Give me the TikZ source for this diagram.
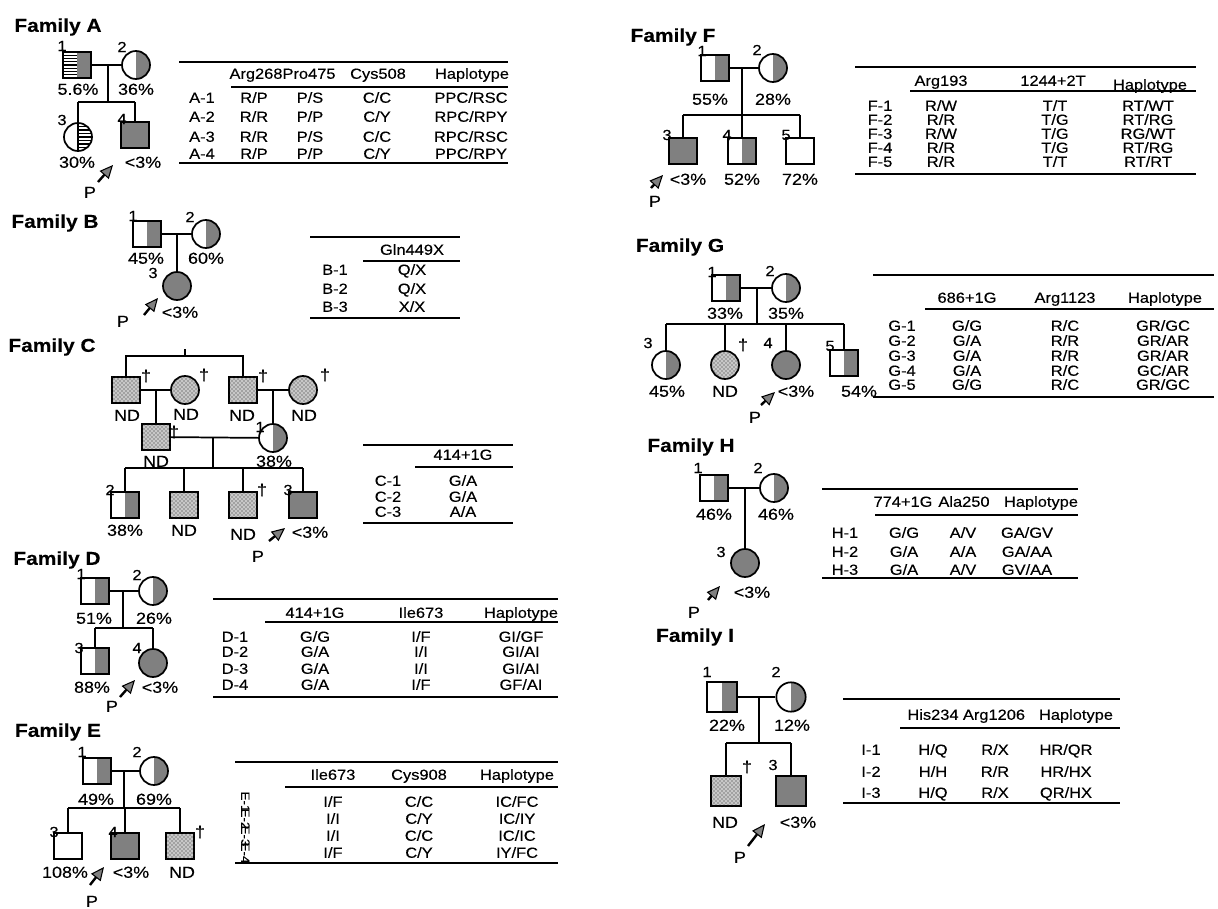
\documentclass[tikz,border=0pt]{standalone}
\usepackage{fontspec}
\setmainfont{Liberation Sans}[FakeStretch=1.12,FakeBold=0.3]
\usetikzlibrary{arrows.meta,patterns,calc}
\definecolor{PedGray}{RGB}{128,128,128}
\definecolor{DotGray}{RGB}{200,200,200}
\tikzset{
  sym/.style={draw,line width=1.3pt,inner sep=0pt},
  male/.style={sym,rectangle,minimum width=21pt,minimum height=19.5pt},
  female/.style={sym,circle,minimum size=21pt},
  affected/.style={fill=PedGray},
  carrier/.style={fill=white,path picture={\fill[PedGray] (path picture bounding box.north) rectangle (path picture bounding box.south east);}},
  stipple/.style={fill=DotGray,postaction={pattern=crosshatch dots,pattern color=black!85}},
  stripegray/.style={fill=white,path picture={
    \fill[PedGray] (path picture bounding box.north) rectangle (path picture bounding box.south east);
    \foreach \k in {1,...,7}
      \draw[line width=0.9pt] ($(path picture bounding box.north west)!\k/8!(path picture bounding box.south west)$) -- ($(path picture bounding box.north)!\k/8!(path picture bounding box.south)$);}},
  stripehalf/.style={fill=white,path picture={
    \draw[line width=0.9pt] (path picture bounding box.north) -- (path picture bounding box.south);
    \foreach \k in {1,...,7}
      \draw[line width=0.9pt] ($(path picture bounding box.north)!\k/8!(path picture bounding box.south)$) -- ($(path picture bounding box.north east)!\k/8!(path picture bounding box.south east)$);}},
  link/.style={line width=1.3pt},
  proband/.style={line width=1.8pt,-{Triangle[length=10pt,width=9pt,fill=PedGray,line width=0.8pt]}},
  famtitle/.style={font=\fontsize{14}{16}\selectfont\bfseries,inner sep=0pt},
  idno/.style={font=\fontsize{11}{12}\selectfont,inner sep=0pt},
  pct/.style={font=\fontsize{12}{14}\selectfont,inner sep=0pt,text height=0.72em,text depth=0pt},
  deadmark/.style={font=\fontsize{12}{13}\selectfont,inner sep=0pt},
  cell/.style={font=\fontsize{11}{12}\selectfont,inner sep=0pt,text height=0.72em,text depth=0pt},
  tabrule/.style={line width=0.8pt}
}
\begin{document}
\begin{tikzpicture}[x=0.75pt,y=-0.75pt]
\useasboundingbox (0,0) rectangle (1218,909);

% ---- family A
\node[famtitle] (famA) at (58,27) {Family A};
\node[male,stripegray] (a1) at (77,65) {};
\node[female,carrier] (a2) at (136,65) {};
\node[female,stripehalf] (a3) at (78,137) {};
\node[male,affected] (a4) at (135,135) {};
\node[idno] (a1n) at (62,46) {1};
\node[idno] (a2n) at (122,47) {2};
\node[idno] (a3n) at (62,120) {3};
\node[idno] (a4n) at (122,119) {4};
\coordinate (a-m) at (108,65);
\coordinate (a-s) at (108,102);
\draw[link] (a1) -- (a2);
\draw[link] (a-m) -- (a-s);
\draw[link] (a3 |- a-s) -- (a4 |- a-s);
\foreach \n in {a3,a4} \draw[link] (\n |- a-s) -- (\n);
\node[pct] (a1p) at (78,90) {5.6\%};
\node[pct] (a2p) at (136,90) {36\%};
\node[pct] (a3p) at (77,163) {30\%};
\node[pct] (a4p) at (143,163) {<3\%};
\coordinate (a-at) at (98,182);
\coordinate (a-ah) at (113,165);
\draw[proband] (a-at) -- (a-ah);
\node[pct] (aP) at (90,193) {P};

\draw[tabrule] (179,62) -- (508,62);
\draw[tabrule] (231,87) -- (508,87);
\draw[tabrule] (179,163) -- (508,163);
\node[cell] (tAh1) at (256,74) {Arg268}; \node[cell] (tAh2) at (309,74) {Pro475};
\node[cell] (tAh3) at (378,74) {Cys508}; \node[cell] (tAh4) at (472,74) {Haplotype};
\node[cell] (tA1) at (202,98) {A-1}; \node[cell] (tA1a) at (254,98) {R/P}; \node[cell] (tA1b) at (310,98) {P/S}; \node[cell] (tA1c) at (377,98) {C/C}; \node[cell] (tA1d) at (471,98) {PPC/RSC};
\node[cell] (tA2) at (202,117) {A-2}; \node[cell] (tA2a) at (254,117) {R/R}; \node[cell] (tA2b) at (310,117) {P/P}; \node[cell] (tA2c) at (377,117) {C/Y}; \node[cell] (tA2d) at (471,117) {RPC/RPY};
\node[cell] (tA3) at (202,137) {A-3}; \node[cell] (tA3a) at (254,137) {R/R}; \node[cell] (tA3b) at (310,137) {P/S}; \node[cell] (tA3c) at (377,137) {C/C}; \node[cell] (tA3d) at (471,137) {RPC/RSC};
\node[cell] (tA4) at (202,154) {A-4}; \node[cell] (tA4a) at (254,154) {R/P}; \node[cell] (tA4b) at (310,154) {P/P}; \node[cell] (tA4c) at (377,154) {C/Y}; \node[cell] (tA4d) at (471,154) {PPC/RPY};

% ---- family B
\node[famtitle] (famB) at (55,223) {Family B};
\node[male,carrier] (b1) at (147,234) {};
\node[female,carrier] (b2) at (206,234) {};
\node[female,affected] (b3) at (177,286) {};
\node[idno] (b1n) at (133,216) {1};
\node[idno] (b2n) at (190,217) {2};
\node[idno] (b3n) at (153,273) {3};
\coordinate (b-m) at (177,234);
\draw[link] (b1) -- (b2);
\draw[link] (b-m) -- (b3);
\node[pct] (b1p) at (146,259) {45\%};
\node[pct] (b2p) at (206,259) {60\%};
\node[pct] (b3p) at (180,313) {<3\%};
\coordinate (b-at) at (144,315);
\coordinate (b-ah) at (158,298);
\draw[proband] (b-at) -- (b-ah);
\node[pct] (bP) at (123,322) {P};

\draw[tabrule] (310,237) -- (460,237);
\draw[tabrule] (363,261) -- (460,261);
\draw[tabrule] (310,318) -- (460,318);
\node[cell] (tBh1) at (412,250) {Gln449X};
\node[cell] (tB1) at (335,270) {B-1}; \node[cell] (tB1a) at (412,270) {Q/X};
\node[cell] (tB2) at (335,289) {B-2}; \node[cell] (tB2a) at (412,289) {Q/X};
\node[cell] (tB3) at (335,307) {B-3}; \node[cell] (tB3a) at (412,307) {X/X};

% ---- family C
\node[famtitle] (famC) at (52,347) {Family C};
\node[male,stipple] (c-gf1) at (126,390) {};
\node[female,stipple] (c-gm1) at (185,390) {};
\node[male,stipple] (c-gf2) at (243,390) {};
\node[female,stipple] (c-gm2) at (303,390) {};
\node[male,stipple] (c-f) at (156,437) {};
\node[female,carrier] (c1) at (273,438) {};
\node[male,carrier] (c2) at (125,505) {};
\node[male,stipple] (c-s2) at (184,505) {};
\node[male,stipple] (c-s3) at (243,505) {};
\node[male,affected] (c3) at (303,505) {};
\node[idno] (c1n) at (260,427) {1};
\node[idno] (c2n) at (110,490) {2};
\node[idno] (c3n) at (288,490) {3};
\coordinate (c-top) at (185,356);
\coordinate (c-tick) at (185,349);
\draw[link] (c-gf1) |- (c-top) -| (c-gf2);
\draw[link] (c-top) -- (c-tick);
\draw[link] (c-gf1) -- (c-gm1);
\draw[link] (c-gf2) -- (c-gm2);
\draw[link] (c-f |- c-gm1) -- (c-f);
\draw[link] (c1 |- c-gm2) -- (c1);
\draw[link] (c-f) -- (c1);
\coordinate (c-m) at (213,437);
\coordinate (c-s) at (213,468);
\draw[link] (c-m) -- (c-s);
\draw[link] (c2 |- c-s) -- (c3 |- c-s);
\foreach \n in {c2,c-s2,c-s3,c3} \draw[link] (\n |- c-s) -- (\n);
\node[deadmark] (c-d1) at (146,376) {†};
\node[deadmark] (c-d2) at (204,375) {†};
\node[deadmark] (c-d3) at (263,376) {†};
\node[deadmark] (c-d4) at (325,375) {†};
\node[deadmark] (c-d5) at (174,432) {†};
\node[deadmark] (c-d6) at (262,490) {†};
\node[pct] (c-nd1) at (127,416) {ND};
\node[pct] (c-nd2) at (186,415) {ND};
\node[pct] (c-nd3) at (242,416) {ND};
\node[pct] (c-nd4) at (304,416) {ND};
\node[pct] (c-nd5) at (156,462) {ND};
\node[pct] (c1p) at (274,462) {38\%};
\node[pct] (c2p) at (125,531) {38\%};
\node[pct] (c-nd6) at (184,531) {ND};
\node[pct] (c-nd7) at (243,535) {ND};
\node[pct] (c3p) at (310,533) {<3\%};
\coordinate (c-at) at (269,541);
\coordinate (c-ah) at (285,528);
\draw[proband] (c-at) -- (c-ah);
\node[pct] (cP) at (258,557) {P};

\draw[tabrule] (363,445) -- (513,445);
\draw[tabrule] (415,467) -- (513,467);
\draw[tabrule] (363,523) -- (513,523);
\node[cell] (tCh1) at (463,455) {414+1G};
\node[cell] (tC1) at (388,481) {C-1}; \node[cell] (tC1a) at (463,481) {G/A};
\node[cell] (tC2) at (388,497) {C-2}; \node[cell] (tC2a) at (463,497) {G/A};
\node[cell] (tC3) at (388,512) {C-3}; \node[cell] (tC3a) at (463,512) {A/A};

% ---- family D
\node[famtitle] (famD) at (57,560) {Family D};
\node[male,carrier] (d1) at (95,591) {};
\node[female,carrier] (d2) at (153,591) {};
\node[male,carrier] (d3) at (95,661) {};
\node[female,affected] (d4) at (153,663) {};
\node[idno] (d1n) at (81,574) {1};
\node[idno] (d2n) at (137,575) {2};
\node[idno] (d3n) at (79,648) {3};
\node[idno] (d4n) at (137,648) {4};
\coordinate (d-m) at (123,591);
\coordinate (d-s) at (123,628);
\draw[link] (d1) -- (d2);
\draw[link] (d-m) -- (d-s);
\draw[link] (d3 |- d-s) -- (d4 |- d-s);
\foreach \n in {d3,d4} \draw[link] (\n |- d-s) -- (\n);
\node[pct] (d1p) at (94,619) {51\%};
\node[pct] (d2p) at (154,619) {26\%};
\node[pct] (d3p) at (92,688) {88\%};
\node[pct] (d4p) at (160,688) {<3\%};
\coordinate (d-at) at (120,697);
\coordinate (d-ah) at (135,680);
\draw[proband] (d-at) -- (d-ah);
\node[pct] (dP) at (112,707) {P};

\draw[tabrule] (213,599) -- (558,599);
\draw[tabrule] (265,622) -- (558,622);
\draw[tabrule] (213,697) -- (558,697);
\node[cell] (tDh1) at (315,613) {414+1G}; \node[cell] (tDh2) at (421,613) {Ile673}; \node[cell] (tDh3) at (521,613) {Haplotype};
\node[cell] (tD1) at (235,637) {D-1}; \node[cell] (tD1a) at (315,637) {G/G}; \node[cell] (tD1b) at (421,637) {I/F}; \node[cell] (tD1c) at (521,637) {GI/GF};
\node[cell] (tD2) at (235,652) {D-2}; \node[cell] (tD2a) at (315,652) {G/A}; \node[cell] (tD2b) at (421,652) {I/I}; \node[cell] (tD2c) at (521,652) {GI/AI};
\node[cell] (tD3) at (235,669) {D-3}; \node[cell] (tD3a) at (315,669) {G/A}; \node[cell] (tD3b) at (421,669) {I/I}; \node[cell] (tD3c) at (521,669) {GI/AI};
\node[cell] (tD4) at (235,685) {D-4}; \node[cell] (tD4a) at (315,685) {G/A}; \node[cell] (tD4b) at (421,685) {I/F}; \node[cell] (tD4c) at (521,685) {GF/AI};

% ---- family E
\node[famtitle] (famE) at (58,732) {Family E};
\node[male,carrier] (e1) at (97,771) {};
\node[female,carrier] (e2) at (154,771) {};
\node[male,fill=white] (e3) at (68,846) {};
\node[male,affected] (e4) at (125,846) {};
\node[male,stipple] (e5) at (180,846) {};
\node[idno] (e1n) at (82,752) {1};
\node[idno] (e2n) at (137,752) {2};
\node[idno] (e3n) at (54,832) {3};
\node[idno] (e4n) at (113,832) {4};
\node[deadmark] (e-d5) at (200,832) {†};
\coordinate (e-m) at (124,771);
\coordinate (e-s) at (124,808);
\draw[link] (e1) -- (e2);
\draw[link] (e-m) -- (e-s);
\draw[link] (e3 |- e-s) -- (e5 |- e-s);
\foreach \n in {e3,e4,e5} \draw[link] (\n |- e-s) -- (\n);
\node[pct] (e1p) at (96,800) {49\%};
\node[pct] (e2p) at (154,800) {69\%};
\node[pct] (e3p) at (65,873) {108\%};
\node[pct] (e4p) at (131,873) {<3\%};
\node[pct] (e5p) at (182,873) {ND};
\coordinate (e-at) at (90,885);
\coordinate (e-ah) at (104,867);
\draw[proband] (e-at) -- (e-ah);
\node[pct] (eP) at (92,902) {P};

\draw[tabrule] (235,762) -- (558,762);
\draw[tabrule] (285,787) -- (558,787);
\draw[tabrule] (235,863) -- (558,863);
\node[cell] (tEh1) at (333,775) {Ile673}; \node[cell] (tEh2) at (419,775) {Cys908}; \node[cell] (tEh3) at (517,775) {Haplotype};
\node[cell,rotate=-90,font=\fontsize{9}{10}\selectfont] (tE1) at (246,802) {E-1}; \node[cell] (tE1a) at (333,802) {I/F}; \node[cell] (tE1b) at (419,802) {C/C}; \node[cell] (tE1c) at (517,802) {IC/FC};
\node[cell,rotate=-90,font=\fontsize{9}{10}\selectfont] (tE2) at (246,819) {E-2}; \node[cell] (tE2a) at (333,819) {I/I}; \node[cell] (tE2b) at (419,819) {C/Y}; \node[cell] (tE2c) at (517,819) {IC/IY};
\node[cell,rotate=-90,font=\fontsize{9}{10}\selectfont] (tE3) at (246,836) {E-3}; \node[cell] (tE3a) at (333,836) {I/I}; \node[cell] (tE3b) at (419,836) {C/C}; \node[cell] (tE3c) at (517,836) {IC/IC};
\node[cell,rotate=-90,font=\fontsize{9}{10}\selectfont] (tE4) at (246,853) {E-4}; \node[cell] (tE4a) at (333,853) {I/F}; \node[cell] (tE4b) at (419,853) {C/Y}; \node[cell] (tE4c) at (517,853) {IY/FC};

% ---- family F
\node[famtitle] (famF) at (673,37) {Family F};
\node[male,carrier] (f1) at (715,68) {};
\node[female,carrier] (f2) at (773,68) {};
\node[male,affected] (f3) at (683,151) {};
\node[male,carrier] (f4) at (742,151) {};
\node[male,fill=white] (f5) at (800,151) {};
\node[idno] (f1n) at (702,51) {1};
\node[idno] (f2n) at (757,50) {2};
\node[idno] (f3n) at (667,135) {3};
\node[idno] (f4n) at (727,135) {4};
\node[idno] (f5n) at (786,135) {5};
\coordinate (f-m) at (742,68);
\coordinate (f-s) at (742,115);
\draw[link] (f1) -- (f2);
\draw[link] (f-m) -- (f-s);
\draw[link] (f3 |- f-s) -- (f5 |- f-s);
\foreach \n in {f3,f4,f5} \draw[link] (\n |- f-s) -- (\n);
\node[pct] (f1p) at (710,100) {55\%};
\node[pct] (f2p) at (773,100) {28\%};
\node[pct] (f3p) at (688,180) {<3\%};
\node[pct] (f4p) at (742,180) {52\%};
\node[pct] (f5p) at (800,180) {72\%};
\coordinate (f-at) at (651,188);
\coordinate (f-ah) at (663,175);
\draw[proband] (f-at) -- (f-ah);
\node[pct] (fP) at (655,202) {P};

\draw[tabrule] (855,67) -- (1196,67);
\draw[tabrule] (910,91) -- (1196,91);
\draw[tabrule] (855,174) -- (1196,174);
\node[cell] (tFh1) at (941,81) {Arg193}; \node[cell] (tFh2) at (1053,81) {1244+2T}; \node[cell] (tFh3) at (1150,85) {Haplotype};
\node[cell] (tF1) at (880,106) {F-1}; \node[cell] (tF1a) at (941,106) {R/W}; \node[cell] (tF1b) at (1055,106) {T/T}; \node[cell] (tF1c) at (1148,106) {RT/WT};
\node[cell] (tF2) at (880,120) {F-2}; \node[cell] (tF2a) at (941,120) {R/R}; \node[cell] (tF2b) at (1055,120) {T/G}; \node[cell] (tF2c) at (1148,120) {RT/RG};
\node[cell] (tF3) at (880,134) {F-3}; \node[cell] (tF3a) at (941,134) {R/W}; \node[cell] (tF3b) at (1055,134) {T/G}; \node[cell] (tF3c) at (1148,134) {RG/WT};
\node[cell] (tF4) at (880,148) {F-4}; \node[cell] (tF4a) at (941,148) {R/R}; \node[cell] (tF4b) at (1055,148) {T/G}; \node[cell] (tF4c) at (1148,148) {RT/RG};
\node[cell] (tF5) at (880,162) {F-5}; \node[cell] (tF5a) at (941,162) {R/R}; \node[cell] (tF5b) at (1055,162) {T/T}; \node[cell] (tF5c) at (1148,162) {RT/RT};

% ---- family G
\node[famtitle] (famG) at (680,247) {Family G};
\node[male,carrier] (g1) at (726,288) {};
\node[female,carrier] (g2) at (786,288) {};
\node[female,carrier] (g3) at (666,365) {};
\node[female,stipple] (g-nd) at (725,365) {};
\node[female,affected] (g4) at (786,365) {};
\node[male,carrier] (g5) at (844,363) {};
\node[idno] (g1n) at (712,272) {1};
\node[idno] (g2n) at (770,271) {2};
\node[idno] (g3n) at (648,343) {3};
\node[idno] (g4n) at (768,343) {4};
\node[idno] (g5n) at (830,346) {5};
\node[deadmark] (g-d) at (743,345) {†};
\coordinate (g-m) at (757,288);
\coordinate (g-s) at (757,324);
\draw[link] (g1) -- (g2);
\draw[link] (g-m) -- (g-s);
\draw[link] (g3 |- g-s) -- (g5 |- g-s);
\foreach \n in {g3,g-nd,g4,g5} \draw[link] (\n |- g-s) -- (\n);
\node[pct] (g1p) at (725,314) {33\%};
\node[pct] (g2p) at (786,314) {35\%};
\node[pct] (g3p) at (667,392) {45\%};
\node[pct] (g-ndp) at (725,392) {ND};
\node[pct] (g4p) at (796,392) {<3\%};
\node[pct] (g5p) at (859,392) {54\%};
\coordinate (g-at) at (761,405);
\coordinate (g-ah) at (775,392);
\draw[proband] (g-at) -- (g-ah);
\node[pct] (gP) at (755,418) {P};

\draw[tabrule] (873,275) -- (1214,275);
\draw[tabrule] (925,309) -- (1214,309);
\draw[tabrule] (873,397) -- (1214,397);
\node[cell] (tGh1) at (967,298) {686+1G}; \node[cell] (tGh2) at (1065,298) {Arg1123}; \node[cell] (tGh3) at (1165,298) {Haplotype};
\node[cell] (tG1) at (902,326) {G-1}; \node[cell] (tG1a) at (967,326) {G/G}; \node[cell] (tG1b) at (1065,326) {R/C}; \node[cell] (tG1c) at (1163,326) {GR/GC};
\node[cell] (tG2) at (902,341) {G-2}; \node[cell] (tG2a) at (967,341) {G/A}; \node[cell] (tG2b) at (1065,341) {R/R}; \node[cell] (tG2c) at (1163,341) {GR/AR};
\node[cell] (tG3) at (902,356) {G-3}; \node[cell] (tG3a) at (967,356) {G/A}; \node[cell] (tG3b) at (1065,356) {R/R}; \node[cell] (tG3c) at (1163,356) {GR/AR};
\node[cell] (tG4) at (902,371) {G-4}; \node[cell] (tG4a) at (967,371) {G/A}; \node[cell] (tG4b) at (1065,371) {R/C}; \node[cell] (tG4c) at (1163,371) {GC/AR};
\node[cell] (tG5) at (902,385) {G-5}; \node[cell] (tG5a) at (967,385) {G/G}; \node[cell] (tG5b) at (1065,385) {R/C}; \node[cell] (tG5c) at (1163,385) {GR/GC};

% ---- family H
\node[famtitle] (famH) at (691,447) {Family H};
\node[male,carrier] (h1) at (714,488) {};
\node[female,carrier] (h2) at (774,488) {};
\node[female,affected] (h3) at (745,563) {};
\node[idno] (h1n) at (698,468) {1};
\node[idno] (h2n) at (758,468) {2};
\node[idno] (h3n) at (721,552) {3};
\coordinate (h-m) at (745,488);
\draw[link] (h1) -- (h2);
\draw[link] (h-m) -- (h3);
\node[pct] (h1p) at (714,515) {46\%};
\node[pct] (h2p) at (776,515) {46\%};
\node[pct] (h3p) at (752,593) {<3\%};
\coordinate (h-at) at (708,600);
\coordinate (h-ah) at (720,586);
\draw[proband] (h-at) -- (h-ah);
\node[pct] (hP) at (694,613) {P};

\draw[tabrule] (822,489) -- (1078,489);
\draw[tabrule] (875,515) -- (1078,515);
\draw[tabrule] (822,578) -- (1078,578);
\node[cell] (tHh1) at (903,502) {774+1G}; \node[cell] (tHh2) at (964,502) {Ala250}; \node[cell] (tHh3) at (1041,502) {Haplotype};
\node[cell] (tH1) at (845,533) {H-1}; \node[cell] (tH1a) at (904,533) {G/G}; \node[cell] (tH1b) at (963,533) {A/V}; \node[cell] (tH1c) at (1027,533) {GA/GV};
\node[cell] (tH2) at (845,552) {H-2}; \node[cell] (tH2a) at (904,552) {G/A}; \node[cell] (tH2b) at (963,552) {A/A}; \node[cell] (tH2c) at (1027,552) {GA/AA};
\node[cell] (tH3) at (845,570) {H-3}; \node[cell] (tH3a) at (904,570) {G/A}; \node[cell] (tH3b) at (963,570) {A/V}; \node[cell] (tH3c) at (1027,570) {GV/AA};

% ---- family I
\node[famtitle] (famI) at (695,637) {Family I};
\node[male,carrier,minimum width=23pt,minimum height=22pt] (i1) at (722,697) {};
\node[female,carrier,minimum size=22pt] (i2) at (791,697) {};
\node[male,stipple,minimum width=23pt,minimum height=23pt] (i-nd) at (726,791) {};
\node[male,affected,minimum width=23pt,minimum height=23pt] (i3) at (791,791) {};
\node[idno] (i1n) at (707,672) {1};
\node[idno] (i2n) at (776,672) {2};
\node[idno] (i3n) at (773,765) {3};
\node[deadmark] (i-d) at (747,767) {†};
\coordinate (i-m) at (759,697);
\coordinate (i-s) at (759,743);
\draw[link] (i1) -- (i2);
\draw[link] (i-m) -- (i-s);
\draw[link] (i-nd |- i-s) -- (i3 |- i-s);
\foreach \n in {i-nd,i3} \draw[link] (\n |- i-s) -- (\n);
\node[pct] (i1p) at (727,726) {22\%};
\node[pct] (i2p) at (792,726) {12\%};
\node[pct] (i-ndp) at (725,823) {ND};
\node[pct] (i3p) at (798,823) {<3\%};
\coordinate (i-at) at (748,846);
\coordinate (i-ah) at (765,824);
\draw[proband] (i-at) -- (i-ah);
\node[pct] (iP) at (740,858) {P};

\draw[tabrule] (843,699) -- (1120,699);
\draw[tabrule] (900,728) -- (1120,728);
\draw[tabrule] (843,803) -- (1120,803);
\node[cell] (tIh1) at (933,715) {His234}; \node[cell] (tIh2) at (994,715) {Arg1206}; \node[cell] (tIh3) at (1076,715) {Haplotype};
\node[cell] (tI1) at (871,750) {I-1}; \node[cell] (tI1a) at (933,750) {H/Q}; \node[cell] (tI1b) at (995,750) {R/X}; \node[cell] (tI1c) at (1066,750) {HR/QR};
\node[cell] (tI2) at (871,772) {I-2}; \node[cell] (tI2a) at (933,772) {H/H}; \node[cell] (tI2b) at (995,772) {R/R}; \node[cell] (tI2c) at (1066,772) {HR/HX};
\node[cell] (tI3) at (871,793) {I-3}; \node[cell] (tI3a) at (933,793) {H/Q}; \node[cell] (tI3b) at (995,793) {R/X}; \node[cell] (tI3c) at (1066,793) {QR/HX};
\end{tikzpicture}
\end{document}
